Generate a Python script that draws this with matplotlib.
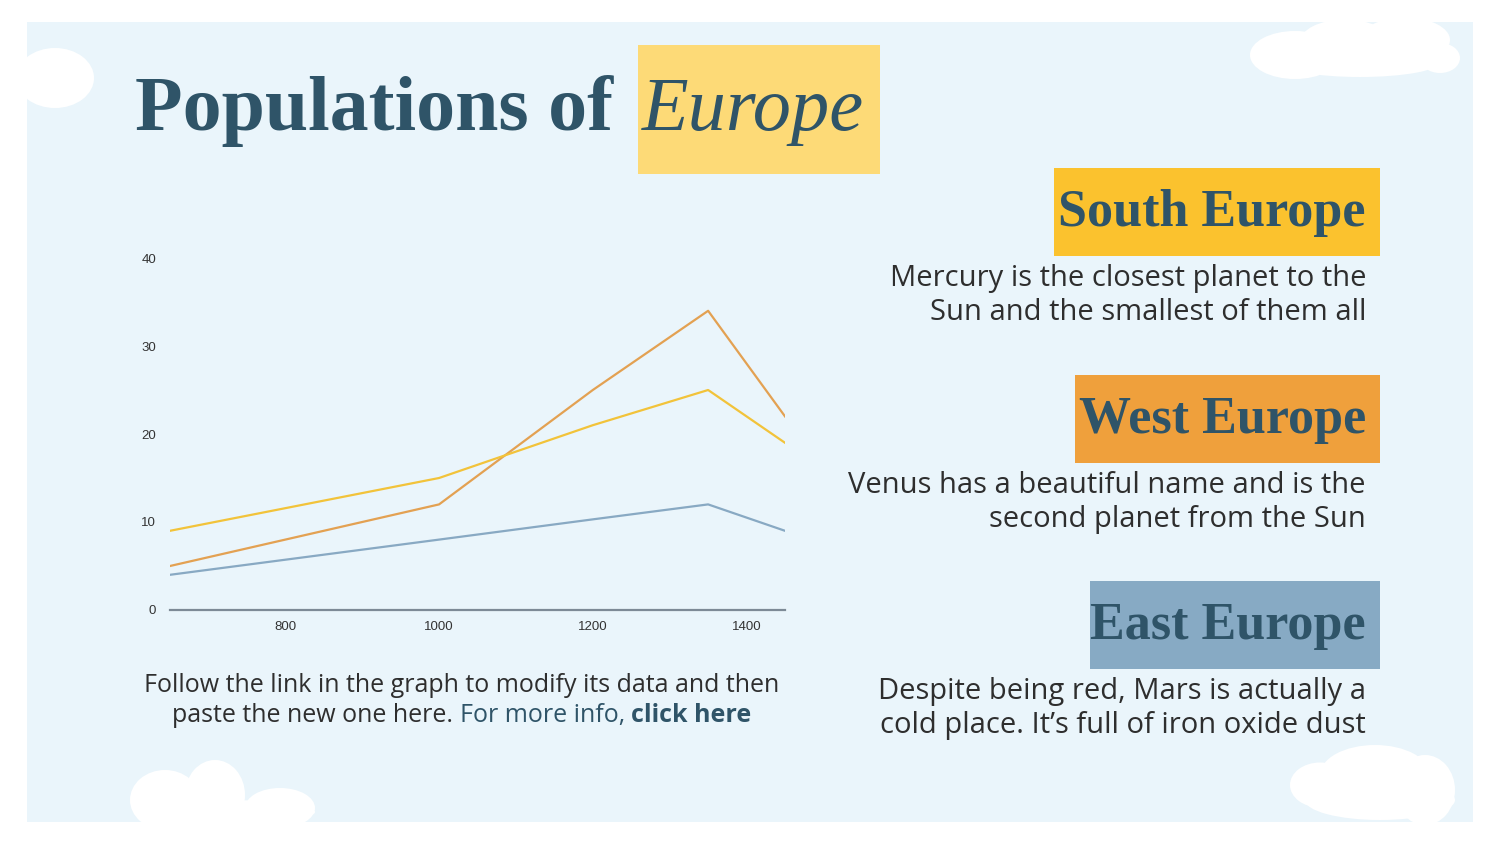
import matplotlib.pyplot as plt
from matplotlib.patches import Rectangle, Ellipse

# data
years = [650, 1000, 1200, 1350, 1450]
west = [5, 12, 25, 34, 22]
south = [9, 15, 21, 25, 19]
east = [4, 8, 10.3, 12, 9]
xticks = [800, 1000, 1200, 1400]
yticks = [0, 10, 20, 30, 40]

navy = "#2f5468"
text_c = "#2e2e2e"

fig = plt.figure(figsize=(15, 8.44), dpi=100)
fig.patch.set_facecolor("white")

# background layer in pixel coordinates
bg = fig.add_axes([0, 0, 1, 1], zorder=0)
bg.set_xlim(0, 1500)
bg.set_ylim(844, 0)
bg.axis("off")
bg.add_patch(Rectangle((27, 22), 1446, 800, color="#eaf5fb", lw=0))

# clouds
clouds = [
    (55, 78, 78, 60), (1295, 55, 90, 48), (1345, 42, 90, 45), (1405, 40, 90, 45),
    (1440, 58, 40, 30), (1360, 62, 160, 30),
    (165, 800, 70, 60), (215, 795, 60, 70), (280, 808, 70, 40), (225, 812, 180, 24),
    (1320, 785, 60, 45), (1375, 775, 110, 60), (1425, 790, 60, 70), (1380, 800, 150, 40),
]
for cx, cy, w, h in clouds:
    bg.add_patch(Ellipse((cx, cy), w, h, color="white", lw=0))

# title
bg.add_patch(Rectangle((638, 45), 242, 129, color="#fdda77", lw=0))
bg.text(135, 130, "Populations of", fontsize=56, fontweight="bold",
        family="Liberation Serif", color=navy, va="baseline", ha="left")
bg.text(642, 130, "Europe", fontsize=55, style="italic",
        family="Liberation Serif", color=navy, va="baseline", ha="left")

# region headers with descriptions
regions = [
    ("South Europe", "#fbc22e", 1054, 168,
     "Mercury is the closest planet to the\nSun and the smallest of them all"),
    ("West Europe", "#efa03c", 1075, 375,
     "Venus has a beautiful name and is the\nsecond planet from the Sun"),
    ("East Europe", "#87aac4", 1090, 581,
     "Despite being red, Mars is actually a\ncold place. It\u2019s full of iron oxide dust"),
]
for name, col, x0, y0, desc in regions:
    bg.add_patch(Rectangle((x0, y0), 1380 - x0, 88, color=col, lw=0))
    bg.text(1366, y0 + 58, name, fontsize=37.5, fontweight="bold",
            family="Liberation Serif", color=navy, ha="right", va="baseline")
    bg.text(1366, y0 + 96, desc, fontsize=21, family="Open Sans",
            color=text_c, ha="right", va="top", linespacing=1.25)

# caption under the chart
bg.text(462, 673, "Follow the link in the graph to modify its data and then",
        fontsize=18, family="Open Sans", color=text_c, ha="center", va="top")
t1 = bg.text(172, 722, "paste the new one here. ", fontsize=18, family="Open Sans",
             color=text_c, ha="left", va="baseline")
t2 = bg.annotate("For more info, ", xy=(1, 0), xycoords=t1, fontsize=18,
                 family="Open Sans", color=navy, ha="left", va="bottom")
bg.annotate("click here", xy=(1, 0), xycoords=t2, fontsize=18, family="Open Sans",
            fontweight="bold", color=navy, ha="left", va="bottom")

# line chart
ax = fig.add_axes([170 / 1500, 234 / 844, 615 / 1500, 352 / 844], zorder=1)
ax.set_facecolor("none")
ax.plot(years, east, color="#88a9c3", lw=1.6)
ax.plot(years, west, color="#e3a152", lw=1.6)
ax.plot(years, south, color="#f2c33a", lw=1.6)
ax.set_xlim(650, 1450)
ax.set_ylim(0, 40)
ax.set_xticks(xticks)
ax.set_yticks(yticks)
for s in ["top", "right", "left"]:
    ax.spines[s].set_visible(False)
ax.spines["bottom"].set_color("#7d8a96")
ax.spines["bottom"].set_linewidth(1.6)
ax.tick_params(length=0, labelsize=9.5, labelcolor="#333333")
ax.tick_params(axis="y", pad=10)
ax.tick_params(axis="x", pad=8)
for lab in ax.get_xticklabels() + ax.get_yticklabels():
    lab.set_family("Liberation Sans")

fig.savefig("out.png", dpi=100)
